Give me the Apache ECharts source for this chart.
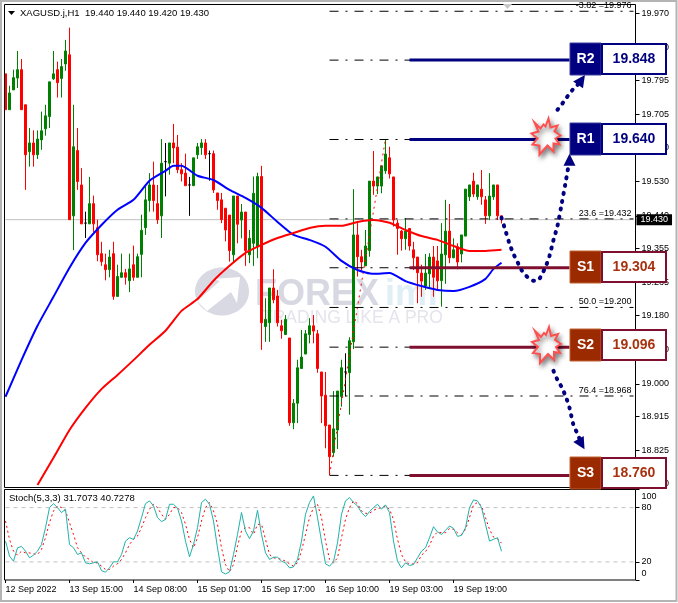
<!DOCTYPE html>
<html>
<head>
<meta charset="utf-8">
<title>XAGUSD H1</title>
<script src="https://cdn.jsdelivr.net/npm/echarts@6/dist/echarts.min.js"></script>
<style>
html, body { margin: 0; padding: 0; background: #fff; }
#chart { width: 678px; height: 603px; }
</style>
</head>
<body>
<div id="chart"></div>
<script>
const FONT = '"Liberation Sans", Arial, sans-serif';
const BAR_COUNT = 158;   // visible slots, candles only fill up to index 124

const timeLabels = ['12 Sep 2022', '13 Sep 15:00', '14 Sep 08:00', '15 Sep 01:00',
    '15 Sep 17:00', '16 Sep 10:00', '19 Sep 03:00', '19 Sep 19:00'];
const priceTicks = [19.970, 19.880, 19.795, 19.705, 19.620, 19.530, 19.440, 19.355,
    19.265, 19.180, 19.090, 19.000, 18.915, 18.825, 18.740];
const stochTicks = [0, 20, 80, 100];

// open, close, low, high
const candles = [
    [19.812,19.718,19.718,19.812],[19.718,19.762,19.718,19.781],[19.770,19.802,19.770,19.823],[19.801,19.823,19.775,19.872],
    [19.823,19.718,19.718,19.851],[19.731,19.600,19.508,19.731],[19.608,19.631,19.569,19.670],[19.631,19.600,19.569,19.664],
    [19.600,19.641,19.589,19.664],[19.639,19.663,19.613,19.713],[19.668,19.702,19.650,19.731],[19.700,19.791,19.670,19.791],
    [19.799,19.812,19.796,19.872],[19.823,19.789,19.750,19.844],[19.800,19.831,19.750,19.851],[19.838,19.872,19.820,19.901],
    [19.862,19.430,19.430,19.933],[19.440,19.621,19.350,19.731],[19.611,19.530,19.508,19.670],[19.521,19.419,19.419,19.565],
    [19.421,19.421,19.382,19.451],[19.419,19.472,19.419,19.542],[19.472,19.419,19.398,19.493],[19.409,19.338,19.321,19.430],
    [19.341,19.320,19.309,19.372],[19.312,19.299,19.271,19.341],[19.299,19.332,19.279,19.351],[19.341,19.229,19.220,19.372],
    [19.229,19.281,19.229,19.312],[19.279,19.291,19.279,19.341],[19.291,19.279,19.260,19.301],[19.270,19.301,19.240,19.341],
    [19.312,19.279,19.270,19.362],[19.279,19.333,19.279,19.341],[19.339,19.402,19.279,19.443],[19.409,19.482,19.390,19.521],
    [19.480,19.521,19.451,19.552],[19.521,19.480,19.451,19.582],[19.472,19.430,19.419,19.521],[19.440,19.578,19.382,19.641],
    [19.582,19.582,19.491,19.631],[19.578,19.631,19.548,19.631],[19.631,19.618,19.578,19.681],[19.620,19.561,19.552,19.652],
    [19.561,19.550,19.530,19.578],[19.552,19.519,19.519,19.603],[19.521,19.521,19.440,19.542],[19.519,19.592,19.519,19.592],
    [19.600,19.621,19.589,19.631],[19.619,19.631,19.600,19.641],[19.631,19.600,19.589,19.641],[19.603,19.603,19.532,19.611],
    [19.603,19.508,19.500,19.611],[19.500,19.480,19.456,19.500],[19.482,19.430,19.421,19.500],[19.460,19.403,19.373,19.460],
    [19.442,19.349,19.320,19.442],[19.338,19.492,19.318,19.492],[19.492,19.418,19.368,19.492],[19.429,19.450,19.381,19.471],
    [19.450,19.349,19.309,19.450],[19.338,19.381,19.316,19.403],[19.368,19.499,19.309,19.543],[19.359,19.543,19.329,19.553],
    [19.543,19.160,19.089,19.571],[19.150,19.169,19.110,19.224],[19.160,19.251,19.110,19.251],[19.251,19.220,19.211,19.300],
    [19.230,19.160,19.150,19.246],[19.152,19.139,19.118,19.167],[19.129,19.169,19.129,19.180],[19.120,18.898,18.890,19.120],
    [18.898,18.949,18.881,18.960],[18.949,19.042,18.897,19.063],[19.040,19.070,19.040,19.141],[19.078,19.131,19.078,19.141],
    [19.129,19.152,19.106,19.172],[19.152,19.138,19.106,19.180],[19.131,19.040,19.029,19.141],[19.031,18.968,18.897,19.031],
    [18.970,18.890,18.831,19.031],[18.892,18.809,18.761,18.892],[18.820,18.882,18.809,18.981],[18.879,18.981,18.829,18.981],
    [18.967,19.042,18.940,19.063],[19.031,19.031,18.967,19.080],[19.029,19.113,18.919,19.122],[19.110,19.390,19.091,19.510],
    [19.390,19.333,19.281,19.421],[19.333,19.319,19.298,19.351],[19.309,19.361,19.309,19.403],[19.349,19.531,19.333,19.531],
    [19.531,19.518,19.495,19.610],[19.518,19.542,19.497,19.542],[19.518,19.571,19.499,19.571],[19.558,19.602,19.550,19.641],
    [19.592,19.550,19.538,19.621],[19.542,19.429,19.412,19.542],[19.421,19.407,19.338,19.429],[19.400,19.380,19.349,19.403],
    [19.380,19.400,19.351,19.434],[19.407,19.361,19.349,19.407],[19.351,19.330,19.298,19.372],[19.332,19.291,19.211,19.332],
    [19.290,19.269,19.228,19.312],[19.256,19.290,19.246,19.340],[19.288,19.332,19.249,19.342],[19.332,19.279,19.228,19.361],
    [19.322,19.270,19.246,19.361],[19.270,19.340,19.202,19.421],[19.338,19.400,19.262,19.482],[19.400,19.330,19.316,19.471],
    [19.330,19.351,19.330,19.381],[19.359,19.319,19.300,19.368],[19.340,19.390,19.318,19.390],[19.387,19.510,19.387,19.510],
    [19.490,19.521,19.479,19.521],[19.531,19.497,19.489,19.553],[19.490,19.521,19.482,19.521],[19.510,19.490,19.469,19.560],
    [19.482,19.440,19.419,19.492],[19.440,19.492,19.429,19.552],[19.490,19.521,19.482,19.521],[19.521,19.440,19.429,19.521],
    [19.440,19.430,19.420,19.440]
];

// moving averages
const blueBars = [0,4,8,12,16,20,24,28,32,36,40,42,44,48,52,56,60,64,68,72,76,80,84,88,92,96,100,104,108,112,116,120,122,124];
const blueMA = [18.966,19.062,19.152,19.228,19.304,19.369,19.416,19.456,19.482,19.532,19.558,19.571,19.571,19.545,19.534,19.508,
    19.487,19.461,19.424,19.390,19.377,19.359,19.322,19.298,19.288,19.290,19.269,19.256,19.246,19.243,19.254,19.275,19.301,19.317];
const redBars = [8,12,16,20,24,28,32,36,40,44,48,52,56,60,64,68,72,76,80,84,88,92,96,100,104,108,112,116,120,124];
const redMA = [18.735,18.806,18.879,18.937,18.986,19.023,19.062,19.102,19.139,19.191,19.222,19.270,19.309,19.343,19.364,19.382,
    19.395,19.408,19.414,19.414,19.424,19.429,19.422,19.403,19.387,19.377,19.361,19.348,19.348,19.351];

const stochK = [43,26.4,20.8,35.6,37.1,31.9,24.5,27.5,31.9,39.3,57.8,80,84.4,80,74.5,78.2,39.3,35.6,28.2,30,19,17.9,19,20.1,10.4,8.6,13.4,
    20.1,20.1,28.2,43,46.7,44.9,54.1,68.9,84.4,87.4,81.9,68.9,64.5,67,83.7,83.7,79.3,65.2,43,25.6,39.3,57.8,85.6,89.3,83.7,65.2,35.6,9,6.7,9,
    28.2,50.4,74.5,54.1,45.6,54.1,77,50.4,30,22.7,25.2,25.2,20.8,19,13.4,14.5,22.7,43,72.6,85.6,92.9,68.9,43,17.9,15.3,20.1,41,72.6,
    87.4,91.1,85.6,81.9,74.5,70,75.6,80,83.7,78.2,83,74.5,43,20.8,13.4,19,16,17.1,24.5,31.9,35.6,46.7,58.9,53,50.4,54.8,59.7,57.1,48.2,49.3,
    57.8,80,88.5,87.4,80,61.5,43,44.9,46.7,31.7];
const stochD = [65.2,44.9,31.9,27.5,31.9,30,30,28.9,28.2,33.8,46.7,63.4,76.3,81.9,80,76.3,63.4,50.4,35.6,30,25.2,22.7,19,19,15.3,11.6,11.6,
    15.3,17.9,22.7,30,39.3,44.9,48.5,57.8,68.9,78.2,83.7,80,72.6,67,72.6,80,80,74.5,61.5,44.9,35.6,46.7,65.2,80,85.6,76.3,61.5,35.6,17.1,9,
    17.1,37.4,54.1,57.8,57.8,50.4,61.5,61.5,44.9,28.2,24.5,23.8,22.7,20.8,17.9,15.3,19,31.9,50.4,68.9,80,83.7,68.9,43,22.7,19,24.5,46.7,
    67,80,87.4,84.4,76.3,73.7,73.7,77,78.9,80,81.9,78.2,67,44.9,28.2,20.1,17.1,17.9,19,27.5,31.2,38.2,48.5,53,52.2,52.2,57.1,55.9,52.2,50.4,
    55.9,68.9,83,85.6,81.9,68.9,55.9,47.4,45.6,40.7];
const stochLevels = [20, 80];

const lastPrice = 19.430;
const fibStartBar = 81;
const fibEndBar = 157;
const fibLevels = [19.976, 19.848, 19.640, 19.432, 19.304, 19.200, 19.096, 18.968, 18.760];
const fibTexts = ['-3.82 =19.976', '', '', '23.6 =19.432', '', '50.0 =19.200', '', '76.4 =18.968', ''];
const swingBars = [81, 95];
const swingPrices = [18.761, 19.641];

const levelNames = ['R2', 'R1', 'S1', 'S2', 'S3'];
const levelPrices = [19.848, 19.640, 19.304, 19.096, 18.760];
const levelBars = [101, 141];

// projected moves, the dotted arrows on the right
const path1Bars = [124,125,126,127,128,129,130,131,132,133,134,135,136,137,138,139,140,141];
const path1Prices = [19.435,19.401,19.367,19.340,19.319,19.298,19.285,19.275,19.270,19.270,19.285,19.306,19.335,19.377,19.414,19.469,19.526,19.587];
const path2Bars = [138,139,140,141,142,143,144];
const path2Prices = [19.718,19.731,19.746,19.760,19.773,19.783,19.796];
const path3Bars = [137,138,139,140,141,142,143,144];
const path3Prices = [19.034,19.010,18.992,18.968,18.937,18.892,18.869,18.842];

const NAVY = '#000080';
const MAROON = '#7f0f2f';
const BRICK = '#9c2a00';

const categories = [];
for (let i = 0; i < BAR_COUNT; i++) categories.push(i);
const isTimeTick = (i) => i % 16 === 0 && i / 16 < timeLabels.length;

const pairs = (xs, ys) => xs.map((x, i) => [x, ys[i]]);

const flatLine = (name, from, to, value, style, extra) => Object.assign({
    name: name,
    type: 'line',
    xAxisIndex: 0,
    yAxisIndex: 0,
    data: [[from, value], [to, value]],
    symbol: 'none',
    silent: true,
    lineStyle: style,
    z: 4
}, extra);

const dottedPath = (name, xs, ys, arrowRotate) => {
    let data = pairs(xs, ys).map((p) => ({ value: p, symbol: 'none' }));
    let tip = data[data.length - 1];
    tip.symbol = 'triangle';
    tip.symbolSize = 12;
    tip.symbolRotate = arrowRotate;
    return {
        name: name,
        type: 'line',
        data: data,
        smooth: 0.3,
        silent: true,
        showSymbol: true,
        showAllSymbol: true,
        itemStyle: { color: NAVY },
        lineStyle: { color: NAVY, width: 4, type: [1, 7], cap: 'round' },
        z: 6
    };
};

let series = [{
    name: 'XAGUSD',
    type: 'candlestick',
    data: candles,
    barWidth: 2,
    itemStyle: {
        color: '#008000',
        color0: '#ff0000',
        borderColor: '#008000',
        borderColor0: '#ff0000',
        borderColorDoji: '#000',
        borderWidth: 1
    },
    z: 2
}, {
    name: 'swing',
    type: 'line',
    data: pairs(swingBars, swingPrices),
    symbol: 'none',
    lineStyle: { color: '#ff0000', width: 1, type: [2, 4] },
    z: 3
}, {
    name: 'MA blue',
    type: 'line',
    data: pairs(blueBars, blueMA),
    symbol: 'none',
    smooth: 0.2,
    lineStyle: { color: '#0000ff', width: 2 },
    z: 5
}, {
    name: 'MA red',
    type: 'line',
    data: pairs(redBars, redMA),
    symbol: 'none',
    smooth: 0.2,
    lineStyle: { color: '#ff0000', width: 2 },
    z: 5
},
flatLine('last', 0, BAR_COUNT - 1, lastPrice, { color: '#c0c0c0', width: 1 }, {
    z: 1,
    endLabel: {
        show: true,
        formatter: lastPrice.toFixed(3),
        color: '#fff',
        backgroundColor: '#000',
        fontFamily: FONT,
        fontSize: 9,
        padding: [1, 4, 1, 4],
        distance: 3
    }
})];

fibLevels.forEach((level, i) => {
    series.push(flatLine('fib' + i, fibStartBar, fibEndBar, level,
        { color: '#000', width: 1, type: [9, 7, 2, 7] },
        fibTexts[i] ? {
            endLabel: {
                show: true,
                formatter: fibTexts[i],
                color: '#000',
                fontFamily: FONT,
                fontSize: 9,
                align: 'right',
                verticalAlign: 'bottom',
                distance: 0,
                offset: [-2, -1]
            }
        } : {}));
});

levelPrices.forEach((level, i) => {
    series.push(flatLine('level ' + levelNames[i], levelBars[0], levelBars[1], level,
        { color: levelNames[i][0] === 'R' ? NAVY : MAROON, width: 3 }, { z: 5 }));
});

series.push(dottedPath('path1', path1Bars, path1Prices, 0));
series.push(dottedPath('path2', path2Bars, path2Prices, -35));
series.push(dottedPath('path3', path3Bars, path3Prices, -150));

stochLevels.forEach((level) => {
    series.push(flatLine('stoch ' + level, 0, BAR_COUNT - 1, level,
        { color: '#c0c0c0', width: 1, type: [4, 4] }, { xAxisIndex: 1, yAxisIndex: 1, z: 1 }));
});
series.push({
    name: 'Stoch D',
    type: 'line',
    xAxisIndex: 1,
    yAxisIndex: 1,
    data: stochD,
    symbol: 'none',
    lineStyle: { color: '#ff0000', width: 1, type: [2, 3] },
    z: 3
}, {
    name: 'Stoch K',
    type: 'line',
    xAxisIndex: 1,
    yAxisIndex: 1,
    data: stochK,
    symbol: 'none',
    lineStyle: { color: '#20b2aa', width: 1 },
    z: 4
});

// the signal boxes next to each level
const boxTops = [43, 123, 251, 329, 457];
const boxes = [];
levelNames.forEach((name, i) => {
    let resist = name[0] === 'R';
    boxes.push({
        type: 'rect', z: 100,
        shape: { x: 570, y: boxTops[i], width: 31, height: 32 },
        style: { fill: resist ? NAVY : BRICK, stroke: resist ? '#3a3a9c' : '#c06030', lineWidth: 1 }
    }, {
        type: 'rect', z: 100,
        shape: { x: 602, y: boxTops[i] + 1, width: 64, height: 30 },
        style: { fill: '#fff', stroke: resist ? NAVY : MAROON, lineWidth: 2 }
    }, {
        type: 'text', z: 101,
        style: {
            x: 585.5, y: boxTops[i] + 16, text: name, fill: '#fff',
            font: 'bold 14px ' + FONT, textAlign: 'center', textVerticalAlign: 'middle'
        }
    }, {
        type: 'text', z: 101,
        style: {
            x: 634, y: boxTops[i] + 16, text: levelPrices[i].toFixed(3), fill: resist ? NAVY : '#a83210',
            font: 'bold 14px ' + FONT, textAlign: 'center', textVerticalAlign: 'middle'
        }
    });
});

const burstShape = [[-12,-15],[-6,-9],[-3,-13],[-1,-11],[2,-19],[4,-10],[11,-12],[8,-6],[14,-2],[9,1],[13,7],[7,6],[7,14],[1,8],[-7,17],[-7,8],[-14,7],[-9,1],[-15,-4],[-8,-6]];
const bursts = [[546.5, 137.5], [547, 346]].map((c) => ({
    type: 'polygon',
    z: 90,
    x: c[0],
    y: c[1],
    shape: { points: burstShape },
    style: {
        fill: '#fff', stroke: '#ff5050', lineWidth: 2,
        shadowColor: 'rgba(0,0,0,0.45)', shadowBlur: 5, shadowOffsetX: 2, shadowOffsetY: 3
    }
}));

const watermark = [{
    type: 'ellipse', z: 0,
    shape: { cx: 222, cy: 291.5, rx: 27, ry: 24 },
    style: { fill: '#d9d9e3' }
}, {
    type: 'polygon', z: 0,
    shape: { points: [[197, 301], [220, 281], [213, 279], [240, 277], [237, 303], [231, 292], [207, 311]] },
    style: { fill: '#fff' }
}, {
    type: 'text', z: 0,
    style: { x: 255, y: 295, text: 'FOREX', fill: '#d8d8e2', font: 'bold 36px ' + FONT, textVerticalAlign: 'middle' }
}, {
    type: 'text', z: 0,
    style: { x: 385, y: 295, text: 'imf', fill: '#e0eef5', font: 'bold 36px ' + FONT, textVerticalAlign: 'middle' }
}, {
    type: 'text', z: 0,
    style: { x: 262, y: 318, text: 'TRADING LIKE A PRO', fill: '#e4e4ec', font: '17.5px ' + FONT, textVerticalAlign: 'middle' }
}];

const texts = [{
    type: 'polygon', z: 50,
    shape: { points: [[8, 11], [15, 11], [11.5, 15]] },
    style: { fill: '#000' }
}, {
    type: 'text', z: 50,
    style: { x: 20, y: 13, text: 'XAGUSD.j,H1  19.440 19.440 19.420 19.430', fill: '#000', font: '9.5px ' + FONT, textVerticalAlign: 'middle' }
}, {
    type: 'text', z: 50,
    style: { x: 9, y: 498, text: 'Stoch(5,3,3) 31.7073 40.7278', fill: '#000', font: '9.5px ' + FONT, textVerticalAlign: 'middle' }
}, {
    type: 'polygon', z: 50,
    shape: { points: [[503, 4], [512, 4], [507.5, 9]] },
    style: { fill: '#c8c8c8' }
}, {
    type: 'rect', z: 40,
    shape: { x: 4.5, y: 4.5, width: 631, height: 483 },
    style: { fill: 'none', stroke: '#000', lineWidth: 1 }
}, {
    type: 'rect', z: 40,
    shape: { x: 4.5, y: 489.5, width: 631, height: 90.5 },
    style: { fill: 'none', stroke: '#000', lineWidth: 1 }
}, {
    type: 'rect', z: 200,
    shape: { x: 1, y: 1, width: 675.5, height: 600 },
    style: { fill: 'none', stroke: '#b4b4b4', lineWidth: 2 }
}];

let chart = echarts.init(document.getElementById('chart'));

const option = {
    animation: false,
    backgroundColor: '#fff',
    grid: [
        { left: 3.5, width: 632, top: 4, height: 484 },
        { left: 3.5, width: 632, top: 489.5, height: 90.5 }
    ],
    xAxis: [{
        type: 'category',
        gridIndex: 0,
        data: categories,
        show: false
    }, {
        type: 'category',
        gridIndex: 1,
        data: categories,
        axisLine: { show: false },
        axisTick: {
            show: true,
            alignWithLabel: true,
            length: 3,
            interval: (i) => isTimeTick(i),
            lineStyle: { color: '#000' }
        },
        axisLabel: {
            interval: (i) => isTimeTick(i),
            formatter: (v, i) => timeLabels[i / 16] || '',
            color: '#000',
            fontFamily: FONT,
            fontSize: 9,
            align: 'left',
            margin: 5
        }
    }],
    yAxis: [{
        type: 'value',
        gridIndex: 0,
        position: 'right',
        min: 18.727,
        max: 19.995,
        splitLine: { show: false },
        axisLine: { show: false },
        axisTick: { show: true, length: 4, customValues: priceTicks, lineStyle: { color: '#000' } },
        axisLabel: {
            customValues: priceTicks,
            formatter: (v) => v.toFixed(3),
            color: '#000',
            fontFamily: FONT,
            fontSize: 9,
            margin: 6
        }
    }, {
        type: 'value',
        gridIndex: 1,
        position: 'right',
        min: 0,
        max: 100,
        splitLine: { show: false },
        axisLine: { show: false },
        axisTick: { show: true, length: 4, customValues: stochTicks, lineStyle: { color: '#000' } },
        axisLabel: {
            customValues: stochTicks,
            // 100 and 0 sit inside the panel, not on their ticks
            formatter: (v) => v === 100 ? '{down|100}' : v === 0 ? '{up|0}' : String(v),
            rich: {
                down: { fontFamily: FONT, fontSize: 9, color: '#000', padding: [14, 0, 0, 0] },
                up: { fontFamily: FONT, fontSize: 9, color: '#000', padding: [0, 0, 13, 0] }
            },
            color: '#000',
            fontFamily: FONT,
            fontSize: 9,
            margin: 6
        }
    }],
    series: series,
    graphic: { elements: watermark.concat(bursts, boxes, texts) }
};

option && chart.setOption(option);
window.addEventListener('resize', chart.resize);
</script>
</body>
</html>
